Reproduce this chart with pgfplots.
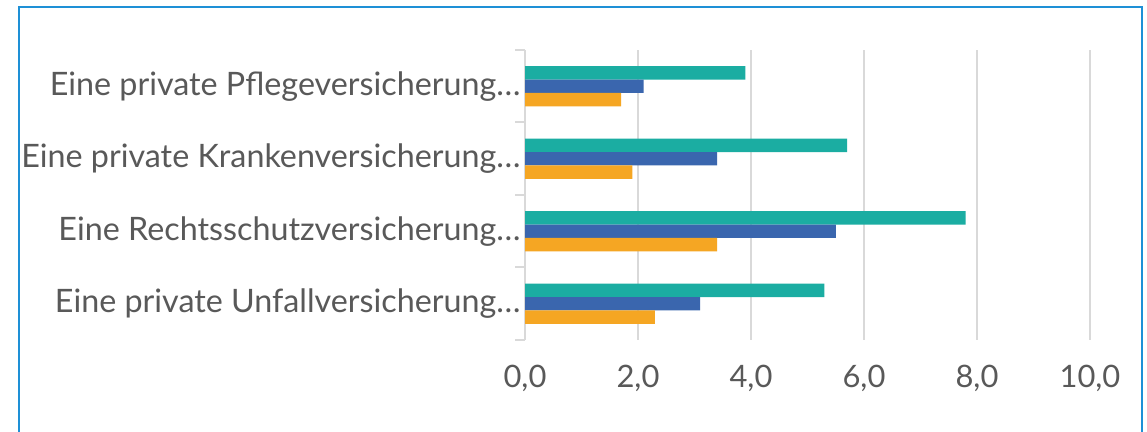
\documentclass[border=0pt]{standalone}
\usepackage{pgfplots}
\pgfplotsset{compat=1.18}
\usepackage{fontspec}
\setmainfont{Lato}
\definecolor{tealc}{HTML}{1BADA2}
\definecolor{bluec}{HTML}{3A66AE}
\definecolor{orangec}{HTML}{F5A623}
\definecolor{txt}{HTML}{595959}
\definecolor{gridc}{HTML}{D9D9D9}
\definecolor{framec}{HTML}{1E90D6}
\pgfplotstableread{
v y
5.3 0
7.8 1
5.7 2
3.9 3
}\teal
\pgfplotstableread{
v y
3.1 0
5.5 1
3.4 2
2.1 3
}\blue
\pgfplotstableread{
v y
2.3 0
3.4 1
1.9 2
1.7 3
}\orange
\begin{document}
\begin{tikzpicture}
\path[use as bounding box] (0,0) rectangle (1147bp,432bp);
\clip (0,0) rectangle (1147bp,432bp);
\fill[white] (0,0) rectangle (1147bp,432bp);
\draw[framec, line width=2bp] (19bp,425bp) rectangle (1142bp,-20bp);
\begin{axis}[
  at={(525bp,92bp)}, anchor=south west,
  width=565bp, height=290bp, scale only axis,
  xmin=0, xmax=10, ymin=-0.5, ymax=3.5,
  xbar, bar width=0.186,
  axis x line*=bottom, axis y line*=left,
  x axis line style={draw=none},
  y axis line style={gridc, line width=2bp},
  xtick={0,2,4,6,8,10},
  xticklabels={{0,0},{2,0},{4,0},{6,0},{8,0},{10,0}},
  ytick={0,1,2,3},
  yticklabels={Eine private Unfallversicherung…,Eine Rechtsschutzversicherung…,Eine private Krankenversicherung…,Eine private Pflegeversicherung…},
  minor ytick={-0.5,0.5,1.5,2.5,3.5},
  major tick length=0pt,
  minor tick length=10bp,
  tick align=outside,
  minor tick style={gridc, line width=2bp},
  xmajorgrids,
  grid style={gridc, line width=2bp},
  tick label style={text=txt},
  xticklabel style={yshift=-22bp, font=\fontsize{31}{36}\selectfont},
  yticklabel style={xshift=-1bp, font=\fontsize{32.4}{38}\selectfont},
]
\addplot[fill=tealc, draw=none, bar shift=0.186] table[x=v,y=y] {\teal};
\addplot[fill=bluec, draw=none, bar shift=0] table[x=v,y=y] {\blue};
\addplot[fill=orangec, draw=none, bar shift=-0.186] table[x=v,y=y] {\orange};
\end{axis}
\end{tikzpicture}
\end{document}
